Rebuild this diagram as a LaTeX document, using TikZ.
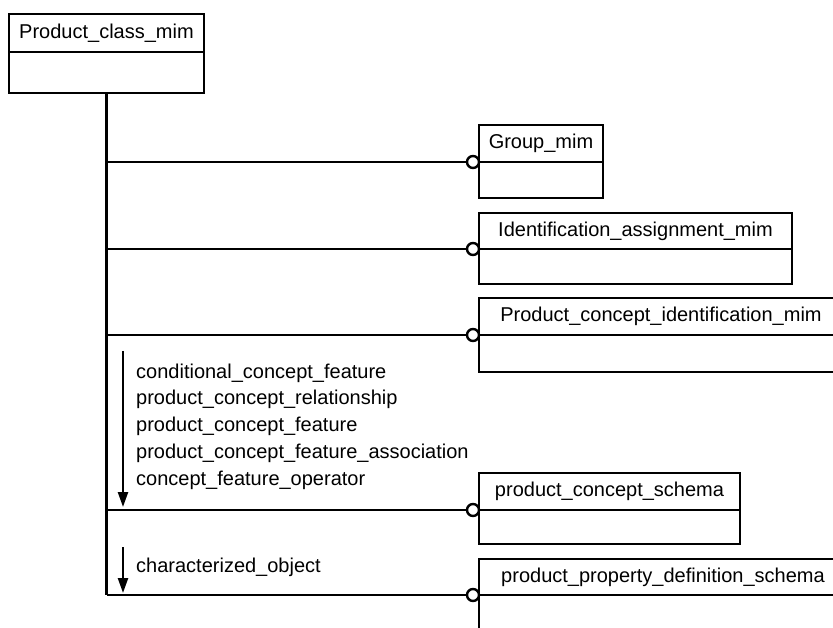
\documentclass[tikz,border=0pt]{standalone}
\usepackage{fontspec}
\setmainfont{Liberation Sans}
\usetikzlibrary{positioning,arrows.meta}
\tikzset{
    hdr/.style={draw,line width=2.6pt,inner sep=0pt,outer sep=0pt,anchor=north west,
        font=\fontsize{20}{24}\selectfont},
    bdy/.style={draw,line width=2.6pt,inner sep=0pt,outer sep=0pt},
    ring/.style={draw,circle,fill=white,line width=2.4pt,inner sep=0pt,outer sep=0pt,minimum size=12pt},
    lnk/.style={line width=2.4pt},
    dir/.style={line width=2.4pt,-{Triangle[length=15pt,width=10pt]}},
    lbl/.style={anchor=base west,inner sep=0pt,font=\fontsize{20}{24}\selectfont}
}

\begin{document}
\begin{tikzpicture}[x=1pt,y=-1pt]
        \clip (0,0) rectangle (833,628);
        \node [hdr,minimum width=195pt,minimum height=38pt] (pcmh) at (9,14) {Product\_class\_mim};
        \node [bdy,minimum width=195pt,minimum height=41pt,below=0pt of pcmh] (pcmb) {};
        \node [hdr,minimum width=124pt,minimum height=37pt] (grph) at (479,125) {Group\_mim};
        \node [bdy,minimum width=124pt,minimum height=36pt,below=0pt of grph] (grpb) {};
        \node [hdr,minimum width=313pt,minimum height=36pt] (idah) at (479,213) {Identification\_assignment\_mim};
        \node [bdy,minimum width=313pt,minimum height=35pt,below=0pt of idah] (idab) {};
        \node [hdr,minimum width=364pt,minimum height=37pt] (pcih) at (479,298) {Product\_concept\_identification\_mim};
        \node [bdy,minimum width=364pt,minimum height=37pt,below=0pt of pcih] (pcib) {};
        \node [hdr,minimum width=261pt,minimum height=37pt] (pcsh) at (479,473) {product\_concept\_schema};
        \node [bdy,minimum width=261pt,minimum height=34pt,below=0pt of pcsh] (pcsb) {};
        \node [hdr,minimum width=368pt,minimum height=36pt] (ppdh) at (479,559) {product\_property\_definition\_schema};
        \node [bdy,minimum width=368pt,minimum height=60pt,below=0pt of ppdh] (ppdb) {};
        \coordinate (spine) at (pcmb.south |- ppdh.south west);
        \draw [lnk] (pcmb.south) -- (spine);
        \foreach \b in {grp,ida,pci,pcs,ppd} {
            \node [ring] (\b-o) at ([xshift=-6pt]\b h.south west) {};
            \draw [lnk] (pcmb.south |- \b-o) -- (\b-o);
        }
        \coordinate (a1) at (123,351);
        \coordinate (a1e) at (123,507);
        \coordinate (a2) at (123,547);
        \coordinate (a2e) at (123,593);
        \draw [dir] (a1) -- (a1e);
        \draw [dir] (a2) -- (a2e);
        \foreach \t [count=\i] in {conditional\_concept\_feature,
                product\_concept\_relationship,
                product\_concept\_feature,
                product\_concept\_feature\_association,
                concept\_feature\_operator} {
            \node [lbl] (lab\i) at (136,{378+26.75*(\i-1)}) {\t};
        }
        \node [lbl] (lab6) at (136,572) {characterized\_object};
    \end{tikzpicture}
\end{document}
